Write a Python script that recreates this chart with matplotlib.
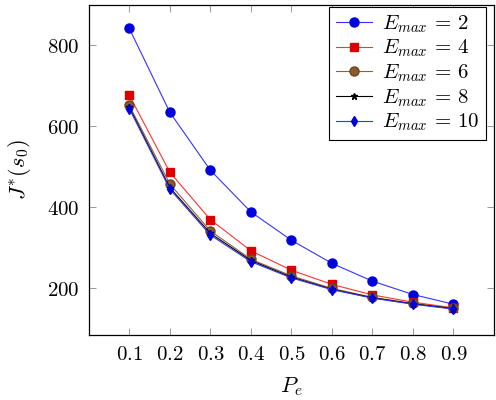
import matplotlib.pyplot as plt
import matplotlib as mpl

mpl.rcParams['mathtext.fontset'] = 'cm'
mpl.rcParams['font.family'] = 'serif'
mpl.rcParams['font.serif'] = ['DejaVu Serif']

pe = [0.1, 0.2, 0.3, 0.4, 0.5, 0.6, 0.7, 0.8, 0.9]
j_e2 = [841, 634, 491, 388, 318, 261, 217, 184, 160]
j_e4 = [676, 486, 369, 292, 244, 209, 183, 165, 151]
j_e6 = [651, 457, 341, 271, 230, 199, 177, 162, 150]
j_e8 = [646, 448, 335, 268, 227, 197, 176, 161, 149]
j_e10 = [643, 444, 331, 265, 225, 196, 175, 160, 148]
labels = [r'$E_{max}\, =\, 2$', r'$E_{max}\, =\, 4$', r'$E_{max}\, =\, 6$',
          r'$E_{max}\, =\, 8$', r'$E_{max}\, =\, 10$']

fig = plt.figure(figsize=(4.96, 4.0), dpi=100)
ax = fig.add_axes([0.179, 0.1625, 0.817, 0.825])

# series styles, pgfplots-like
ax.plot(pe, j_e2, color='#3333ff', lw=0.8, marker='o', ms=6.5,
        mfc='#0000dd', mec='#0000dd', label=labels[0])
ax.plot(pe, j_e4, color='#ff3333', lw=0.8, marker='s', ms=6,
        mfc='#dd0000', mec='#dd0000', label=labels[1])
ax.plot(pe, j_e6, color='#8c6239', lw=0.8, marker='o', ms=6.5,
        mfc='#8c5a2b', mec='#6b4420', label=labels[2])
ax.plot(pe, j_e8, color='black', lw=0.8, marker='*', ms=4.5,
        mfc='black', mec='black', label=labels[3])
ax.plot(pe, j_e10, color='#3333ff', lw=0.8, marker='d', ms=5.5,
        mfc='#0000dd', mec='#0000dd', label=labels[4])

ax.set_xlim(0, 1.0)
ax.set_ylim(84, 899)
ax.set_xticks(pe)
ax.set_xticklabels(['$%.1f$' % v for v in pe])
ax.set_yticks([200, 400, 600, 800])
ax.set_yticklabels(['$200$', '$400$', '$600$', '$800$'])
ax.tick_params(direction='in', top=True, right=True, length=5,
               width=0.6, labelsize=15, color='#888888', pad=7)
for s in ax.spines.values():
    s.set_linewidth(0.9)

ax.set_xlabel('$P_e$', fontsize=16, labelpad=8)
ax.set_ylabel('$J^{*}(s_0)$', fontsize=16, labelpad=10)

leg = ax.legend(loc='upper right', bbox_to_anchor=(0.98, 0.994),
                fontsize=15, fancybox=False, edgecolor='black',
                framealpha=1, borderaxespad=0, handlelength=1.75,
                labelspacing=0.15, borderpad=0.3, handletextpad=0.5)
leg.get_frame().set_linewidth(0.8)

plt.savefig('out.png', dpi=100)
